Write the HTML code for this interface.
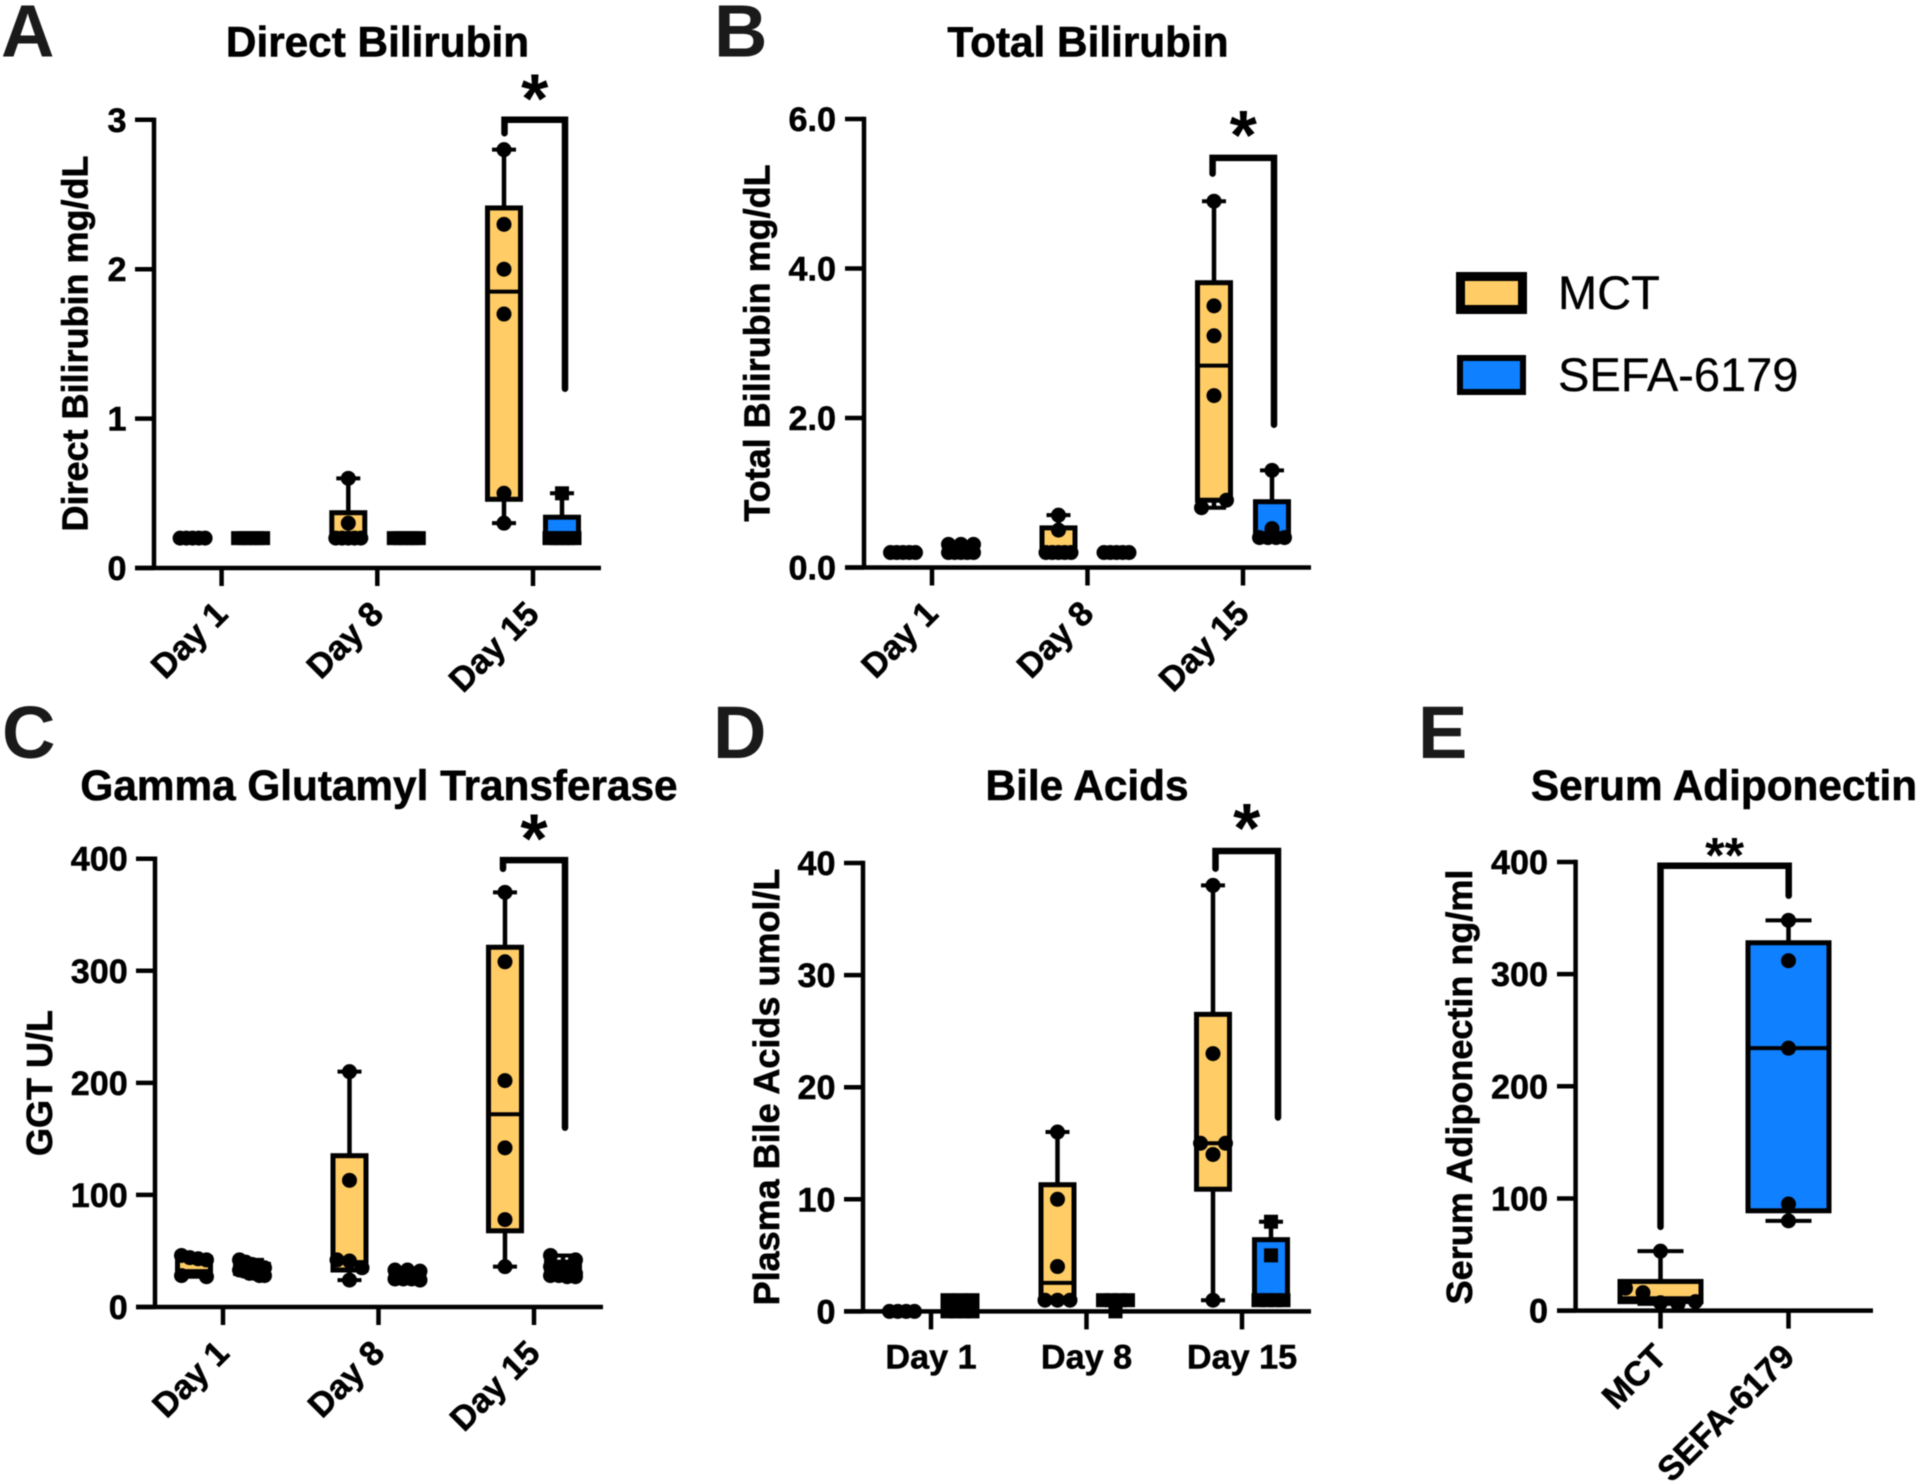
<!DOCTYPE html>
<html lang="en">
<head>
<meta charset="utf-8">
<title>Bilirubin, GGT, bile acids and adiponectin box plots</title>
<style>
html,body{margin:0;padding:0;background:#fff;}
svg{display:block;filter:blur(0.5px);}
text{font-family:"Liberation Sans",Arial,sans-serif;fill:#000;}
.bold{font-weight:700;}
.letter{font-weight:700;font-size:74px;fill:#1a1a1a;}
.title{font-weight:700;font-size:42.3px;text-anchor:middle;stroke:#000;stroke-width:0.6px;}
.ytitle{font-weight:700;font-size:36px;text-anchor:middle;stroke:#000;stroke-width:0.6px;}
.tick{font-weight:700;font-size:34.2px;stroke:#000;stroke-width:0.5px;}
.legend{font-size:47px;stroke:#000;stroke-width:0.3px;}
</style>
</head>
<body>
<svg id="fig" width="1920" height="1484" viewBox="0 0 1920 1484" xmlns="http://www.w3.org/2000/svg">
  <rect x="0" y="0" width="1920" height="1484" fill="#fff"/>

  <text class="letter" x="1" y="56.5">A</text>
  <text class="letter" x="714" y="56.5">B</text>
  <text class="letter" x="2" y="758">C</text>
  <text class="letter" x="713" y="758">D</text>
  <text class="letter" x="1418" y="758">E</text>

  <text class="title" x="377.5" y="56.5">Direct Bilirubin</text>
  <text class="title" x="1088" y="56.5">Total Bilirubin</text>
  <text class="title" x="379" y="800">Gamma Glutamyl Transferase</text>
  <text class="title" x="1087" y="800">Bile Acids</text>
  <text class="title" x="1724" y="800">Serum Adiponectin</text>

  <text class="ytitle" transform="translate(87.7 343.5) rotate(-90)">Direct Bilirubin mg/dL</text>
  <text class="ytitle" transform="translate(769.4 343) rotate(-90)">Total Bilirubin mg/dL</text>
  <text class="ytitle" transform="translate(52 1083) rotate(-90)">GGT U/L</text>
  <text class="ytitle" transform="translate(779 1087) rotate(-90)">Plasma Bile Acids umol/L</text>
  <text class="ytitle" transform="translate(1472 1087) rotate(-90)">Serum Adiponectin ng/ml</text>

  <g>
    <rect x="1460.5" y="276.5" width="62" height="33" fill="#FFCC66" stroke="#000" stroke-width="9"/>
    <text class="legend" x="1558" y="309">MCT</text>
    <rect x="1460" y="358" width="63" height="34" fill="#0F80FF" stroke="#000" stroke-width="6"/>
    <text class="legend" x="1558" y="391">SEFA-6179</text>
  </g>
</svg>

<script>
/* ---------- shared categories ---------- */
const dayCategories = ['Day 1', 'Day 8', 'Day 15'];
const groupCategories = ['MCT', 'SEFA-6179'];

/* ---------- Panel A: Direct Bilirubin ---------- */
const aTickValues = [0, 1, 2, 3];
const aTickLabels = ['0', '1', '2', '3'];
const aMctMin = [0.2, 0.2, 0.3];
const aMctQ1 = [0.2, 0.2, 0.46];
const aMctMedian = [0.2, 0.2, 1.85];
const aMctQ3 = [0.2, 0.37, 2.41];
const aMctMax = [0.2, 0.6, 2.8];
const aMctPoints = [[0.2, 0.2, 0.2, 0.2, 0.2], [0.6, 0.3, 0.2, 0.2, 0.2, 0.2, 0.2], [2.8, 2.3, 2.0, 1.7, 0.5, 0.3]];
const aSefaMin = [0.2, 0.2, 0.2];
const aSefaQ1 = [0.2, 0.2, 0.2];
const aSefaMedian = [0.2, 0.2, 0.2];
const aSefaQ3 = [0.2, 0.2, 0.34];
const aSefaMax = [0.2, 0.2, 0.5];
const aSefaPoints = [[0.2, 0.2, 0.2, 0.2, 0.2], [0.2, 0.2, 0.2, 0.2, 0.2], [0.5, 0.2, 0.2, 0.2, 0.2, 0.2]];
const aBracket = [2.91, 3.0, 1.2];

/* ---------- Panel B: Total Bilirubin ---------- */
const bTickValues = [0, 2, 4, 6];
const bTickLabels = ['0.0', '2.0', '4.0', '6.0'];
const bMctMin = [0.2, 0.2, 0.8];
const bMctQ1 = [0.2, 0.2, 0.9];
const bMctMedian = [0.2, 0.2, 2.7];
const bMctQ3 = [0.2, 0.53, 3.81];
const bMctMax = [0.2, 0.7, 4.9];
const bMctPoints = [[0.2, 0.2, 0.2, 0.2, 0.2], [0.7, 0.5, 0.2, 0.2, 0.2, 0.2, 0.2], [4.9, 3.5, 3.1, 2.3, 0.8, 0.9]];
const bSefaMin = [0.2, 0.2, 0.4];
const bSefaQ1 = [0.2, 0.2, 0.4];
const bSefaMedian = [0.2, 0.2, 0.4];
const bSefaQ3 = [0.25, 0.2, 0.88];
const bSefaMax = [0.31, 0.2, 1.3];
const bSefaPoints = [[0.31, 0.31, 0.31, 0.2, 0.2, 0.2, 0.2, 0.2], [0.2, 0.2, 0.2, 0.2, 0.2], [1.3, 0.52, 0.4, 0.4, 0.4, 0.4]];
const bBracket = [5.27, 5.48, 1.91];

/* ---------- Panel C: Gamma Glutamyl Transferase ---------- */
const cTickValues = [0, 100, 200, 300, 400];
const cTickLabels = ['0', '100', '200', '300', '400'];
const cMctMin = [27, 24, 36];
const cMctQ1 = [29, 33, 68];
const cMctMedian = [32, 40, 172];
const cMctQ3 = [44, 135, 321];
const cMctMax = [46, 210, 370];
const cMctPoints = [[46, 44, 43, 42, 28, 27], [210, 113, 42, 41, 35, 24], [370, 308, 202, 142, 78, 36]];
const cSefaMin = [28, 24, 27];
const cSefaQ1 = [30, 25, 27];
const cSefaMedian = [35, 28, 30];
const cSefaQ3 = [38, 32, 40];
const cSefaMax = [42, 33, 46];
const cSefaPoints = [[42, 40, 38, 36, 35, 33, 32, 30, 30, 28, 28], [33, 33, 32, 25, 25, 25, 24], [46, 42, 36, 34, 32, 30, 28, 28, 27, 27]];
const cBracket = [391, 398.7, 160];

/* ---------- Panel D: Bile Acids ---------- */
const dTickValues = [0, 10, 20, 30, 40];
const dTickLabels = ['0', '10', '20', '30', '40'];
const dMctMin = [0, 1, 1];
const dMctQ1 = [0, 1, 10.9];
const dMctMedian = [0, 2.55, 15];
const dMctQ3 = [0, 11.3, 26.5];
const dMctMax = [0, 16, 38];
const dMctPoints = [[0, 0, 0, 0], [16, 10, 4, 1, 1, 1], [38, 23, 15, 15, 14, 1]];
const dSefaMin = [0, 0, 1];
const dSefaQ1 = [0, 1, 1];
const dSefaMedian = [0, 1, 1];
const dSefaQ3 = [0, 1, 6.4];
const dSefaMax = [1, 1, 8];
const dSefaPoints = [[1, 1, 1, 0, 0, 0, 0], [1, 1, 1, 1, 0], [8, 5, 1, 1, 1, 1]];
const dBracket = [39.5, 41.07, 17.3];

/* ---------- Panel E: Serum Adiponectin ---------- */
const eTickValues = [0, 100, 200, 300, 400];
const eTickLabels = ['0', '100', '200', '300', '400'];
const eMctMin = [6];
const eMctQ1 = [8];
const eMctMedian = [11];
const eMctQ3 = [26];
const eMctMax = [53];
const eMctPoints = [[53, 20, 16, 7, 6, 8]];
const eSefaMin = [80];
const eSefaQ1 = [89];
const eSefaMedian = [234];
const eSefaQ3 = [328];
const eSefaMax = [348];
const eSefaPoints = [[348, 312, 234, 95, 80]];
const eBracket = [74.7, 396.7, 370];

/* ---------- panel layout (pixel frames, separate from data) ---------- */
const YELLOW = '#FFCC66', BLUE = '#0F80FF';
const panels = [
  { id: 'a', axisX: 154, xStart: 135, xEnd: 601, y0: 568, yTop: 119.8, yMax: 3, firstTick: 221.6, step: 155.7,
    cats: dayCategories, tickValues: aTickValues, tickLabels: aTickLabels, labelRight: 126.5, rotated: true, bracket: aBracket,
    bracketCat: 2, bracketDx: [-28.5, 32], starLift: 36.5, stars: '*', starSize: 70, halfSpan: 12.5, group: 8, boxW: 33, capW: 24,
    series: [
      { name: 'mct', fill: YELLOW, square: false, offset: -29, first: 0, min: aMctMin, q1: aMctQ1, med: aMctMedian, q3: aMctQ3, max: aMctMax, pts: aMctPoints },
      { name: 'sefa', fill: BLUE, square: true, offset: 29, first: 0, min: aSefaMin, q1: aSefaQ1, med: aSefaMedian, q3: aSefaQ3, max: aSefaMax, pts: aSefaPoints }
    ] },
  { id: 'b', axisX: 864, xStart: 845, xEnd: 1311, y0: 567.5, yTop: 119, yMax: 6, firstTick: 932, step: 155.5,
    cats: dayCategories, tickValues: bTickValues, tickLabels: bTickLabels, labelRight: 836, rotated: true, bracket: bBracket,
    bracketCat: 2, bracketDx: [-30.4, 31], starLift: 38, stars: '*', starSize: 70, halfSpan: 12.5, group: 8, boxW: 33, capW: 24,
    series: [
      { name: 'mct', fill: YELLOW, square: false, offset: -29, first: 0, min: bMctMin, q1: bMctQ1, med: bMctMedian, q3: bMctQ3, max: bMctMax, pts: bMctPoints },
      { name: 'sefa', fill: BLUE, square: false, offset: 29, first: 0, min: bSefaMin, q1: bSefaQ1, med: bSefaMedian, q3: bSefaQ3, max: bSefaMax, pts: bSefaPoints }
    ] },
  { id: 'c', axisX: 155, xStart: 136, xEnd: 603, y0: 1307, yTop: 858.7, yMax: 400, firstTick: 223, step: 155.5,
    cats: dayCategories, tickValues: cTickValues, tickLabels: cTickLabels, labelRight: 127.8, rotated: true, bracket: cBracket,
    bracketCat: 2, bracketDx: [-31, 31], starLift: 37, stars: '*', starSize: 70, halfSpan: 12.5, group: 8, boxW: 33, capW: 24,
    series: [
      { name: 'mct', fill: YELLOW, square: false, offset: -29, first: 0, min: cMctMin, q1: cMctQ1, med: cMctMedian, q3: cMctQ3, max: cMctMax, pts: cMctPoints },
      { name: 'sefa', fill: BLUE, square: false, offset: 29, first: 0, min: cSefaMin, q1: cSefaQ1, med: cSefaMedian, q3: cSefaQ3, max: cSefaMax, pts: cSefaPoints }
    ] },
  { id: 'd', axisX: 863, xStart: 844, xEnd: 1311, y0: 1311.4, yTop: 863, yMax: 40, firstTick: 931, step: 155.5,
    cats: dayCategories, tickValues: dTickValues, tickLabels: dTickLabels, labelRight: 835.5, rotated: false, bracket: dBracket,
    bracketCat: 2, bracketDx: [-26.5, 36], starLift: 38, stars: '*', starSize: 70, halfSpan: 12.5, group: 8, boxW: 33, capW: 24,
    series: [
      { name: 'mct', fill: YELLOW, square: false, offset: -29, first: 0, min: dMctMin, q1: dMctQ1, med: dMctMedian, q3: dMctQ3, max: dMctMax, pts: dMctPoints },
      { name: 'sefa', fill: BLUE, square: true, offset: 29, first: 0, min: dSefaMin, q1: dSefaQ1, med: dSefaMedian, q3: dSefaQ3, max: dSefaMax, pts: dSefaPoints }
    ] },
  { id: 'e', axisX: 1575.6, xStart: 1557, xEnd: 1873, y0: 1310.6, yTop: 862, yMax: 400, firstTick: 1660.5, step: 128,
    cats: groupCategories, tickValues: eTickValues, tickLabels: eTickLabels, labelRight: 1548, rotated: true, bracket: eBracket,
    bracketCat: 0, bracketDx: [0, 128.2], starLift: 21, stars: '**', starSize: 50, halfSpan: 35, group: 16, boxW: 81, capW: 46,
    series: [
      { name: 'mct', fill: YELLOW, square: false, offset: 0, first: 0, min: eMctMin, q1: eMctQ1, med: eMctMedian, q3: eMctQ3, max: eMctMax, pts: eMctPoints },
      { name: 'sefa', fill: BLUE, square: false, offset: 0, first: 1, min: eSefaMin, q1: eSefaQ1, med: eSefaMedian, q3: eSefaQ3, max: eSefaMax, pts: eSefaPoints }
    ] }
];

const SVG_NS = 'http://www.w3.org/2000/svg';
const fig = document.getElementById('fig');

function shape(parent, tag, attrs) {
  const node = document.createElementNS(SVG_NS, tag);
  for (const k in attrs) node.setAttribute(k, attrs[k]);
  parent.appendChild(node);
  return node;
}

function yScale(p) {
  return function (v) { return p.y0 - (v / p.yMax) * (p.y0 - p.yTop); };
}
function xScale(p) {
  return function (catIndex) { return p.firstTick + catIndex * p.step; };
}

/* Prism-like swarm: values within a few pixels share a row spread across a fixed width,
   keeping the order in which the values are listed */
function swarm(values, p, y) {
  const sorted = values.map(function (v, idx) { return { v: v, idx: idx }; })
    .sort(function (a, b) { return b.v - a.v || a.idx - b.idx; });
  const out = [];
  let i = 0;
  while (i < sorted.length) {
    let j = i;
    while (j + 1 < sorted.length && y(sorted[j + 1].v) - y(sorted[i].v) <= p.group) j++;
    const row = sorted.slice(i, j + 1).sort(function (a, b) { return a.idx - b.idx; });
    const n = row.length;
    row.forEach(function (item, k) {
      const dx = n === 1 ? 0 : -p.halfSpan + k * (2 * p.halfSpan) / (n - 1);
      out.push({ value: item.v, dx: dx });
    });
    i = j + 1;
  }
  return out;
}

function drawAxes(p, g, x, y) {
  const yAxis = shape(g, 'line', { x1: p.axisX, x2: p.axisX, y1: p.y0, y2: y(p.yMax) - 2.2, stroke: '#000', 'stroke-width': 4.5 });
  
  
  const xAxis = shape(g, 'line', { x1: p.xStart, x2: p.xEnd, y1: p.y0, y2: p.y0, stroke: '#000', 'stroke-width': 4.5 });
  
  

  p.tickValues.forEach(function (v, i) {
    const t = shape(g, 'line', { x1: p.xStart, x2: p.axisX, y1: y(v), y2: y(v), stroke: '#000', 'stroke-width': 4.5 });
    
    
    const l = shape(g, 'text', { x: p.labelRight, y: y(v) + 12, 'text-anchor': 'end', class: 'tick' });
    l.textContent = p.tickLabels[i];
    
    
  });

  p.cats.forEach(function (c, i) {
    const cx = x(i);
    const t = shape(g, 'line', { x1: cx, x2: cx, y1: p.y0, y2: p.y0 + 18, stroke: '#000', 'stroke-width': 4.5 });
    
    
    const l = p.rotated
      ? shape(g, 'text', { x: cx + 8, y: p.y0 + 48, 'text-anchor': 'end', class: 'tick', transform: 'rotate(-45 ' + (cx + 8) + ' ' + (p.y0 + 48) + ')' })
      : shape(g, 'text', { x: cx, y: p.y0 + 57, 'text-anchor': 'middle', class: 'tick' });
    l.textContent = c;
    
    
  });
}

function drawSeries(p, s, g, x, y) {
  s.pts.forEach(function (values, i) {
    const cx = x(i + s.first) + s.offset;
    const box = shape(g, 'g', {});
    
    

    const whisker = shape(box, 'line', { x1: cx, x2: cx, y1: y(s.max[i]), y2: y(s.min[i]), stroke: '#000', 'stroke-width': 4.5 });
    
    

    [s.max[i], s.min[i]].forEach(function (v) {
      const cap = shape(box, 'line', { x1: cx - p.capW / 2, x2: cx + p.capW / 2, y1: y(v), y2: y(v), stroke: '#000', 'stroke-width': 4 });
      
      
    });

    const rect = shape(box, 'rect', { x: cx - p.boxW / 2, y: y(s.q3[i]), width: p.boxW, height: y(s.q1[i]) - y(s.q3[i]), fill: s.fill, stroke: '#000', 'stroke-width': 5 });
    
    

    const med = shape(box, 'line', { x1: cx - p.boxW / 2, x2: cx + p.boxW / 2, y1: y(s.med[i]), y2: y(s.med[i]), stroke: '#000', 'stroke-width': 4 });
    
    

    swarm(values, p, y).forEach(function (pt) {
      const px = cx + pt.dx, py = y(pt.value);
      const mark = s.square
        ? shape(box, 'rect', { x: px - 7, y: py - 7, width: 14, height: 14, fill: '#000' })
        : shape(box, 'circle', { cx: px, cy: py, r: 7.5, fill: '#000' });
      
      
    });
  });
}

function drawBracket(p, g, x, y) {
  const xl = x(p.bracketCat) + p.bracketDx[0];
  const xr = x(p.bracketCat) + p.bracketDx[1];
  const yl = y(p.bracket[0]), yt = y(p.bracket[1]), yr = y(p.bracket[2]);
  const path = shape(g, 'path', { d: 'M' + xl + ' ' + yl + ' V' + yt + ' H' + xr + ' V' + yr, fill: 'none', stroke: '#000', 'stroke-width': 6.5, 'stroke-linecap': 'round', 'stroke-linejoin': 'miter' });
  
  
  const star = shape(g, 'text', { x: (xl + xr) / 2, y: yt - p.starLift + p.starSize * 0.56, 'text-anchor': 'middle', class: 'bold', 'font-size': p.starSize });
  star.textContent = p.stars;
  
  
}

panels.forEach(function (p) {
  const g = shape(fig, 'g', {});
  
  
  const x = xScale(p), y = yScale(p);
  p.series.forEach(function (s) { drawSeries(p, s, g, x, y); });
  drawAxes(p, g, x, y);
  drawBracket(p, g, x, y);
});
</script>
</body>
</html>
